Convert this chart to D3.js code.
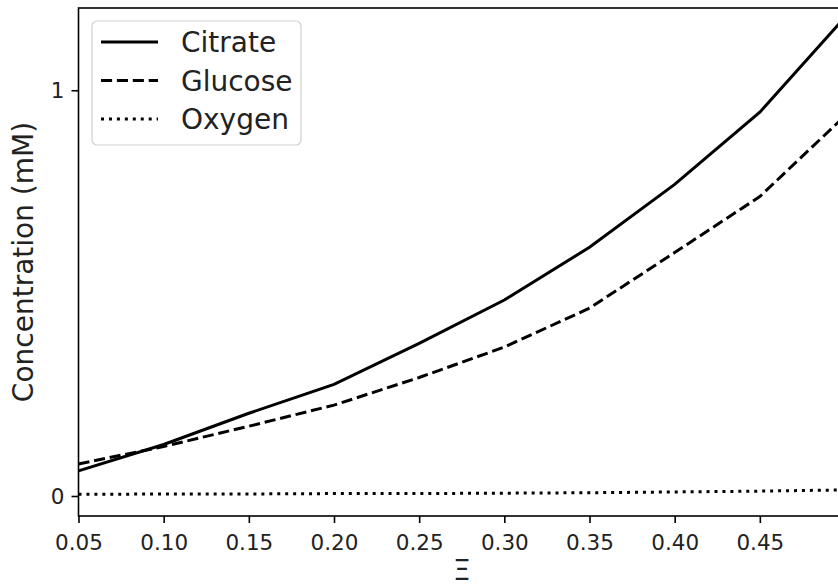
<!DOCTYPE html>
<html>
<head>
<meta charset="utf-8">
<script src="https://cdn.jsdelivr.net/npm/d3@7"></script>
<style>
  body { margin: 0; background: #fff; }
  #graph svg { display: block; }
  text { font-family: "DejaVu Sans", sans-serif; fill: #222; }
</style>
</head>
<body>
<div id="graph"></div>
<script>
// values
var xi = [0.05, 0.10, 0.15, 0.20, 0.25, 0.30, 0.35, 0.40, 0.45, 0.50];
var citrate = [0.062, 0.127, 0.204, 0.275, 0.376, 0.483, 0.613, 0.768, 0.946, 1.18];
var glucose = [0.079, 0.122, 0.172, 0.224, 0.292, 0.367, 0.463, 0.600, 0.738, 0.937];
var oxygen = [0.004, 0.005, 0.005, 0.006, 0.006, 0.007, 0.008, 0.010, 0.012, 0.015];
var seriesNames = ["Citrate", "Glucose", "Oxygen"];
var xTicks = [0.05, 0.10, 0.15, 0.20, 0.25, 0.30, 0.35, 0.40, 0.45];
var yTicks = [0, 1];

var margin = {top: 8, right: 0, bottom: 72, left: 78.5},
    width = 845 - margin.left,
    height = 516 - margin.top;

var dashes = {"Citrate": null, "Glucose": "11.1,4.8", "Oxygen": "3,4.95"};

var svg = d3.select('#graph').append("svg")
            .attr("width", 838)
            .attr("height", 588)
            .append("g")
            .attr("transform", "translate(" + margin.left + "," + margin.top + ")");

var x = d3.scaleLinear()
          .domain([0.05, 0.5])
          .range([0, width]);

var y = d3.scaleLinear()
          .domain([-0.0493, 1.2027])
          .range([height, 0]);

var series = [citrate, glucose, oxygen].map(function(vals, i) {
  return {
    name: seriesNames[i],
    values: d3.zip(xi, vals).map(function(d) { return {x: d[0], y: d[1]}; })
  };
});

var line = d3.line()
             .x(function(d) { return x(d.x); })
             .y(function(d) { return y(d.y); });

svg.selectAll(".series")
   .data(series)
   .enter()
   .append("path")
   .attr("class", "series")
   .attr("d", function(d) { return line(d.values); })
   .attr("fill", "none")
   .attr("stroke", "#000")
   .attr("stroke-width", 3)
   .attr("stroke-dasharray", function(d) { return dashes[d.name]; });

// axes
var xAxis = svg.append("g")
               .attr("transform", "translate(0," + height + ")")
               .call(d3.axisBottom(x)
                       .tickValues(xTicks)
                       .tickFormat(d3.format(".2f"))
                       .tickSizeInner(7)
                       .tickSizeOuter(0)
                       .tickPadding(7));

var yAxis = svg.append("g")
               .call(d3.axisLeft(y)
                       .tickValues(yTicks)
                       .tickFormat(d3.format("d"))
                       .tickSizeInner(7)
                       .tickSizeOuter(0)
                       .tickPadding(7));

[xAxis, yAxis].forEach(function(a) {
  a.select(".domain").remove();
  a.selectAll(".tick line").attr("stroke", "#000").attr("stroke-width", 1.6);
  a.selectAll(".tick text")
   .attr("font-size", 21.5)
   .attr("font-family", "DejaVu Sans")
   .attr("fill", "#222");
});
xAxis.selectAll(".tick text").attr("dy", "0.93em");
yAxis.selectAll(".tick text").attr("dy", "0.36em");

// frame
svg.append("rect")
   .attr("x", 0)
   .attr("y", 0)
   .attr("width", width)
   .attr("height", height)
   .attr("fill", "none")
   .attr("stroke", "#000")
   .attr("stroke-width", 1.6);

// axis labels (kept just inside the bottom edge)
svg.append("text")
   .attr("x", width / 2)
   .attr("y", 572)
   .attr("text-anchor", "middle")
   .attr("font-size", 28)
   .text("Ξ");

svg.append("text")
   .attr("transform", "translate(" + (33 - margin.left) + "," + (height / 2) + ") rotate(-90)")
   .attr("text-anchor", "middle")
   .attr("font-size", 28)
   .text("Concentration (mM)");

// legend
var legend = svg.append("g")
                .attr("transform", "translate(" + (92 - margin.left) + "," + (21 - margin.top) + ")");

legend.append("rect")
      .attr("width", 209)
      .attr("height", 124)
      .attr("rx", 5)
      .attr("fill", "#fff")
      .attr("fill-opacity", 0.8)
      .attr("stroke", "#d0d0d0")
      .attr("stroke-width", 1.2);

var items = legend.selectAll(".item")
                  .data(seriesNames)
                  .enter()
                  .append("g")
                  .attr("class", "item")
                  .attr("transform", function(d, i) { return "translate(0," + (21 + i * 38.5) + ")"; });

items.append("line")
     .attr("x1", 9)
     .attr("x2", 66)
     .attr("stroke", "#000")
     .attr("stroke-width", 3)
     .attr("stroke-dasharray", function(d) { return dashes[d]; });

items.append("text")
     .attr("x", 89)
     .attr("dy", "0.36em")
     .attr("font-size", 28)
     .text(function(d) { return d; });
</script>
</body>
</html>
